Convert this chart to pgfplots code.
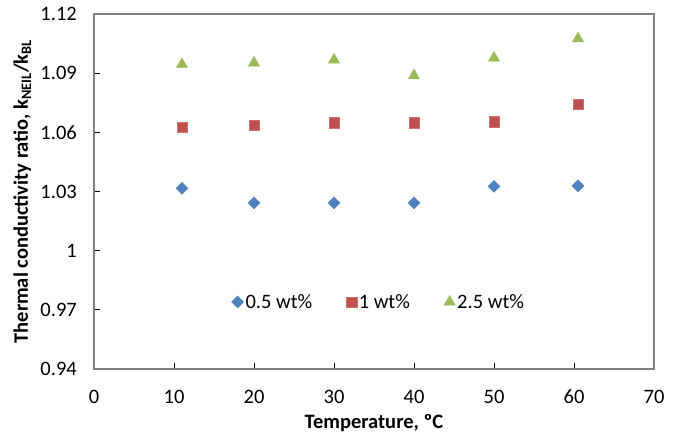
\documentclass[border=0pt]{standalone}
\usepackage{fontspec}
\setmainfont{Carlito}
\usepackage{pgfplots}
\pgfplotsset{compat=1.18}
\definecolor{sblue}{HTML}{4F81BD}
\definecolor{sred}{HTML}{C0504D}
\definecolor{sgreen}{HTML}{9BBB59}
\newcommand{\fs}{\fontsize{20.5bp}{24bp}\selectfont}

\begin{document}
\begin{tikzpicture}
\begin{axis}[
  scale only axis,
  width=560bp, height=355bp,
  xmin=0, xmax=70, ymin=0.94, ymax=1.12,
  xtick={0,10,...,70},
  ytick={0.94,0.97,1,1.03,1.06,1.09,1.12},
  yticklabels={0.94,0.97,1,1.03,1.06,1.09,1.12},
  tick align=inside,
  tick pos=left,
  major tick length=6bp,
  tick style={black, line width=0.8bp},
  every outer x axis line/.append style={black, line width=1bp},
  every outer y axis line/.append style={gray, line width=1.6bp},
  /pgf/number format/assume math mode=true,
  tick label style={font=\fs},
  xticklabel style={anchor=base, yshift=-34bp},
  yticklabel style={anchor=east, inner sep=0pt, xshift=-17bp},
  every axis x label/.style={at={(rel axis cs:0.5,0)}, anchor=base, yshift=-59bp, font=\fs\bfseries},
  every axis y label/.style={at={(rel axis cs:0,0.5)}, rotate=90, anchor=base, yshift=66bp, font=\fs\bfseries},
  xlabel={Temperature, ºC},
  ylabel={Thermal conductivity ratio, k\textsubscript{NEIL}/k\textsubscript{BL}},
  legend style={at={(axis cs:35.6,0.974)}, anchor=center, draw=none, fill=none,
    font=\fs, legend columns=3,
    /tikz/every even column/.append style={column sep=32bp}},
  legend image code/.code={\draw[mark repeat=2,mark phase=2,#1] plot coordinates {(0bp,0bp)(6bp,0bp)(12bp,0bp)};},
]
\addplot[only marks, mark=square*, mark size=4.25bp, mark options={rotate=45, draw=sblue, fill=sblue}]
  coordinates {(11,1.0316) (20,1.0242) (30,1.0242) (40,1.0242) (50,1.0326) (60.5,1.0329)};
\addlegendentry{0.5 wt\%}
\addplot[only marks, mark=square*, mark size=5.2bp, mark options={draw=sred!80!white, fill=sred}]
  coordinates {(11,1.0627) (20,1.0637) (30,1.0648) (40,1.0648) (50,1.0653) (60.5,1.0744)};
\addlegendentry{1 wt\%}
\addplot[only marks, mark=triangle*, mark size=6.5bp, mark options={draw=sgreen, fill=sgreen}]
  coordinates {(11,1.0945) (20,1.0952) (30,1.0967) (40,1.0888) (50,1.0977) (60.5,1.1075)};
\addlegendentry{2.5 wt\%}
\path (rel axis cs:0,0) coordinate (O) (rel axis cs:1,1) coordinate (W);
\end{axis}
\path ([shift={(-94bp,-72bp)}]O) rectangle ([shift={(28bp,14bp)}]W);
\end{tikzpicture}
\end{document}
